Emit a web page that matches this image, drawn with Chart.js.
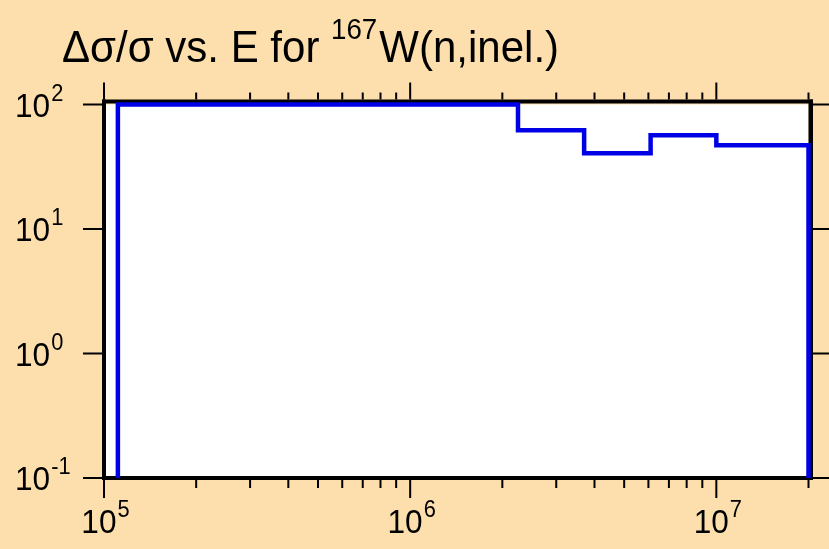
<!DOCTYPE html>
<html>
<head>
<meta charset="utf-8">
<script src="https://cdn.jsdelivr.net/npm/chart.js@4"></script>
<style>
  html, body { margin: 0; padding: 0; background: #fddfad; }
  canvas { display: block; }
</style>
</head>
<body>
<canvas id="chart" width="829" height="549"></canvas>
<script>
// bin edges (eV) and relative uncertainty (%) per bin
const energyEdges = [1.11e5, 2.25e6, 3.7e6, 6.1e6, 1.0e7, 2.0e7];
const relErrors = [100, 62, 40.5, 56.5, 47];
const xMajorTicks = [1e5, 1e6, 1e7];
const xTickExps = ["5", "6", "7"];
const minorSteps = [2, 3, 4, 5, 6, 7, 8, 9];
const yMajorTicks = [0.1, 1, 10, 100];
const yTickExps = ["-1", "0", "1", "2"];
const titleMain = "\u0394\u03c3/\u03c3 vs. E for ";
const titleSup = "167";
const titleEnd = "W(n,inel.)";

const FONT = '"Liberation Sans", Arial, sans-serif';

// step outline: up from the floor, across each bin, back down at the end
const points = [{ x: energyEdges[0], y: 0.1 }];
relErrors.forEach((v, i) => points.push({ x: energyEdges[i], y: v }));
points.push({ x: energyEdges[energyEdges.length - 1], y: 0.1 });

function textW(ctx, s, size, sq) {
  ctx.font = size + "px " + FONT;
  return ctx.measureText(s).width * sq;
}
function drawText(ctx, s, x, y, size, sq) {
  ctx.save();
  ctx.font = size + "px " + FONT;
  ctx.translate(x, y);
  ctx.scale(sq, 1);
  ctx.fillText(s, 0, 0);
  ctx.restore();
}
function drawPow(ctx, exp, x, y, align) {
  const w1 = textW(ctx, "10", 34, 0.93);
  const w2 = textW(ctx, exp, 23, 0.95);
  let left = x;
  if (align === "center") left = x - (w1 + w2) / 2;
  drawText(ctx, "10", left, y, 34, 0.93);
  drawText(ctx, exp, left + w1 + 1, y - 16, 23, 0.95);
}

const framePlugin = {
  id: "frame",
  beforeDraw(chart) {
    const { ctx, chartArea: a } = chart;
    ctx.save();
    ctx.fillStyle = "#ffffff";
    ctx.fillRect(a.left, a.top, a.right - a.left, a.bottom - a.top);
    ctx.restore();
  },
  beforeDatasetsDraw(chart) {
    const { ctx, chartArea: a } = chart;
    ctx.save();
    ctx.fillStyle = "#000";
    ctx.fillRect(a.left - 2, a.top - 5, a.right - a.left + 6.5, 4);
    ctx.fillRect(a.left - 2, a.top - 5, 4, a.bottom - a.top + 7);
    ctx.fillRect(a.left - 2, a.bottom - 2, a.right - a.left + 6.5, 4);
    ctx.fillRect(a.right, a.top - 5, 4.5, a.bottom - a.top + 7);
    ctx.restore();
  },
  afterDraw(chart) {
    const { ctx, chartArea: a } = chart;
    const xs = chart.scales.x, ys = chart.scales.y;
    ctx.save();
    ctx.strokeStyle = "#000";
    ctx.lineWidth = 2;
    ctx.beginPath();
    const xTicks = [];
    xMajorTicks.forEach(d => {
      xTicks.push({ v: d, major: true });
      minorSteps.forEach(m => xTicks.push({ v: d * m, major: false }));
    });
    xTicks.forEach(t => {
      if (t.v > xs.max * 1.0001) return;
      const px = xs.getPixelForValue(t.v);
      ctx.moveTo(px, a.bottom + 2);
      ctx.lineTo(px, a.bottom + (t.major ? 20 : 10));
      ctx.moveTo(px, a.top - 5);
      ctx.lineTo(px, a.top - (t.major ? 22 : 12));
    });
    yMajorTicks.forEach(v => {
      const py = ys.getPixelForValue(v);
      ctx.moveTo(a.left - 2, py);
      ctx.lineTo(83, py);
      ctx.moveTo(a.right + 4.5, py);
      ctx.lineTo(chart.width, py);
    });
    ctx.stroke();

    ctx.fillStyle = "#000";
    ctx.textBaseline = "alphabetic";
    xMajorTicks.forEach((v, i) => {
      drawPow(ctx, xTickExps[i], xs.getPixelForValue(v) + 1, 533, "center");
    });
    yMajorTicks.forEach((v, i) => {
      drawPow(ctx, yTickExps[i], 15, ys.getPixelForValue(v) + 12, "left");
    });

    // title with superscript mass number
    const sq = 0.955;
    let tx = 62;
    drawText(ctx, titleMain, tx, 62, 44, sq);
    tx += textW(ctx, titleMain, 44, sq);
    drawText(ctx, titleSup, tx, 39, 29, sq);
    tx += textW(ctx, titleSup, 29, sq) + 2;
    drawText(ctx, titleEnd, tx, 62, 44, sq);
    ctx.restore();
  }
};

new Chart(document.getElementById("chart"), {
  type: "scatter",
  data: {
    datasets: [{
      data: points,
      showLine: true,
      stepped: "before",
      borderColor: "rgb(0,0,230)",
      borderWidth: 4.5,
      pointRadius: 0,
      fill: false,
      clip: false
    }]
  },
  options: {
    responsive: false,
    animation: false,
    devicePixelRatio: 1,
    layout: { padding: { left: 104, top: 104.5, right: 20.5, bottom: 71 } },
    plugins: { legend: { display: false }, tooltip: { enabled: false }, title: { display: false } },
    scales: {
      x: { type: "logarithmic", min: 1e5, max: 2e7, display: false },
      y: { type: "logarithmic", min: 0.1, max: 100, display: false }
    }
  },
  plugins: [framePlugin]
});
</script>
</body>
</html>
